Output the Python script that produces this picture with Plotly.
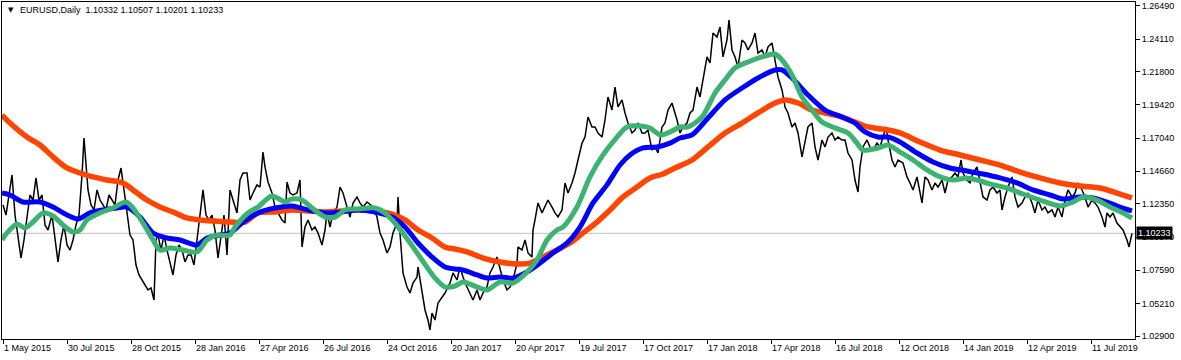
import plotly.graph_objects as go

# ---------------- data (bar index from 1 May 2015, price) ----------------
price_bar = [
    0, 3, 6, 9, 12, 15, 18, 21, 24, 27,
    30, 33, 36, 39, 42, 45, 49, 52, 55, 58,
    61, 64, 67, 70, 73, 76, 79, 81, 83, 85,
    88, 91, 94, 97, 100, 103, 106, 109, 112, 115,
    118, 121, 124, 127, 130, 133, 136, 139, 142, 145,
    148, 151, 153, 155, 158, 161, 164, 167, 170, 173,
    176, 179, 182, 185, 188, 191, 194, 197, 200, 203,
    206, 209, 212, 215, 218, 221, 224, 227, 230, 234,
    237, 240, 244, 247, 250, 254, 257, 260, 262, 265,
    269, 272, 275, 279, 282, 284, 287, 290, 294, 297,
    299, 302, 305, 309, 312, 315, 319, 322, 324, 327,
    330, 334, 337, 340, 344, 347, 350, 354, 357, 360,
    364, 367, 370, 374, 377, 380, 384, 387, 390, 394,
    395, 397, 400, 404, 407, 410, 414, 415, 419, 422,
    425, 427, 429, 432, 435, 439, 442, 445, 447, 450,
    454, 457, 460, 464, 467, 470, 474, 477, 480, 484,
    487, 490, 494, 497, 500, 504, 507, 510, 514, 515,
    519, 522, 525, 529, 530, 532, 535, 539, 542, 545,
    549, 552, 555, 559, 562, 565, 569, 572, 575, 579,
    582, 585, 589, 592, 595, 599, 602, 605, 609, 612,
    615, 619, 622, 625, 629, 632, 635, 639, 642, 645,
    649, 652, 655, 659, 662, 665, 669, 672, 674, 677,
    680, 684, 687, 690, 694, 697, 700, 704, 707, 710,
    714, 717, 720, 724, 726, 729, 732, 735, 739, 742,
    745, 749, 752, 755, 759, 762, 765, 769, 772, 775,
    779, 782, 785, 789, 792, 795, 799, 802, 805, 809,
    812, 815, 819, 822, 825, 829, 832, 835, 839, 842,
    845, 849, 852, 855, 857, 860, 864, 867, 870, 874,
    877, 880, 883, 885, 889, 892, 895, 900, 904, 907,
    910, 914, 917, 919, 922, 925, 929, 932, 935, 939,
    942, 945, 949, 952, 955, 958, 960, 964, 967, 970,
    974, 977, 980, 984, 987, 990, 994, 997, 999, 1002,
    1005, 1009, 1012, 1015, 1019, 1022, 1025, 1029, 1032, 1035,
    1039, 1042, 1045, 1049, 1052, 1055, 1059, 1062, 1065, 1069,
    1072, 1075, 1079, 1082, 1085, 1089, 1092, 1095, 1099, 1102,
    1104, 1107, 1110, 1114, 1117, 1120, 1124, 1126, 1129,
]
price_close = [
    1.1226, 1.1154, 1.1297, 1.1440, 1.1154, 1.1011, 1.0847, 1.0976, 1.1154, 1.1297,
    1.1261, 1.1419, 1.1261, 1.1297, 1.1083, 1.1047, 1.1154, 1.0976, 1.0819, 1.0976,
    1.1083, 1.0940, 1.0904, 1.0976, 1.1083, 1.1154, 1.1440, 1.1704, 1.1476, 1.1333,
    1.1226, 1.1190, 1.1333, 1.1261, 1.1226, 1.1190, 1.1297, 1.1261, 1.1226, 1.1404,
    1.1490, 1.1333, 1.1154, 1.1011, 1.0976, 1.0797, 1.0726, 1.0690, 1.0654, 1.0619,
    1.0633, 1.0547, 1.0976, 1.1011, 1.0904, 1.1011, 1.0904, 1.0819, 1.0726, 1.0869,
    1.0940, 1.0904, 1.0819, 1.0869, 1.0869, 1.0797, 1.0976, 1.1154, 1.1333, 1.1154,
    1.1119, 1.1154, 1.1047, 1.0847, 1.1011, 1.1154, 1.0869, 1.1333, 1.1261, 1.1169,
    1.1404, 1.1454, 1.1454, 1.1261, 1.1311, 1.1369, 1.1354, 1.1604, 1.1497, 1.1390,
    1.1311, 1.1211, 1.1169, 1.1119, 1.1097, 1.1390, 1.1311, 1.1297, 1.1311, 1.1404,
    1.0926, 1.1068, 1.1119, 1.1047, 1.1068, 1.1026, 1.0940, 1.1047, 1.1169, 1.1068,
    1.1169, 1.1211, 1.1354, 1.1311, 1.1211, 1.1140, 1.1240, 1.1283, 1.1240, 1.1211,
    1.1247, 1.1226, 1.1211, 1.1140, 1.1026, 1.0976, 1.0883, 1.0926, 1.1026, 1.1097,
    1.1283, 1.1026, 1.0740, 1.0640, 1.0597, 1.0668, 1.0711, 1.0783, 1.0597, 1.0476,
    1.0404, 1.0333, 1.0454, 1.0404, 1.0526, 1.0569, 1.0597, 1.0640, 1.0668, 1.0740,
    1.0690, 1.0783, 1.0711, 1.0640, 1.0597, 1.0547, 1.0619, 1.0547, 1.0597, 1.0640,
    1.0740, 1.0783, 1.0854, 1.0761, 1.0690, 1.0619, 1.0640, 1.0690, 1.0811, 1.0926,
    1.0904, 1.0976, 1.0883, 1.0854, 1.1047, 1.1119, 1.1240, 1.1169, 1.1211, 1.1261,
    1.1211, 1.1169, 1.1140, 1.1190, 1.1383, 1.1311, 1.1383, 1.1454, 1.1547, 1.1668,
    1.1711, 1.1854, 1.1783, 1.1783, 1.1740, 1.1711, 1.1833, 1.1997, 1.1904, 1.2068,
    1.1926, 1.1976, 1.1883, 1.1811, 1.1740, 1.1761, 1.1811, 1.1740, 1.1740, 1.1761,
    1.1618, 1.1640, 1.1597, 1.1783, 1.1811, 1.1904, 1.1954, 1.1883, 1.1833, 1.1740,
    1.1783, 1.1811, 1.1883, 1.1904, 1.2068, 1.1997, 1.2118, 1.2283, 1.2240, 1.2454,
    1.2425, 1.2497, 1.2283, 1.2404, 1.2547, 1.2333, 1.2283, 1.2211, 1.2404, 1.2383,
    1.2333, 1.2383, 1.2454, 1.2311, 1.2333, 1.2283, 1.2354, 1.2383, 1.2261, 1.2140,
    1.2047, 1.1926, 1.1883, 1.1783, 1.1811, 1.1740, 1.1569, 1.1690, 1.1783, 1.1811,
    1.1640, 1.1547, 1.1690, 1.1640, 1.1711, 1.1740, 1.1690, 1.1711, 1.1690, 1.1690,
    1.1597, 1.1547, 1.1404, 1.1318, 1.1497, 1.1640, 1.1690, 1.1640, 1.1618, 1.1668,
    1.1640, 1.1711, 1.1783, 1.1690, 1.1547, 1.1497, 1.1547, 1.1526, 1.1426, 1.1383,
    1.1333, 1.1426, 1.1311, 1.1240, 1.1426, 1.1404, 1.1333, 1.1383, 1.1354, 1.1404,
    1.1311, 1.1404, 1.1426, 1.1454, 1.1426, 1.1547, 1.1454, 1.1404, 1.1383, 1.1454,
    1.1497, 1.1383, 1.1283, 1.1261, 1.1333, 1.1354, 1.1311, 1.1333, 1.1190, 1.1283,
    1.1354, 1.1426, 1.1283, 1.1211, 1.1240, 1.1283, 1.1311, 1.1240, 1.1169, 1.1261,
    1.1190, 1.1211, 1.1169, 1.1190, 1.1140, 1.1211, 1.1140, 1.1261, 1.1333, 1.1283,
    1.1311, 1.1383, 1.1333, 1.1283, 1.1211, 1.1261, 1.1240, 1.1211, 1.1140, 1.1068,
    1.1169, 1.1140, 1.1169, 1.1097, 1.1068, 1.1047, 1.0976, 1.0926, 1.10233,
]

ma_slow_bar = [
    -1, 7, 24, 37, 50, 64, 77, 90, 104, 120,
    130, 144, 157, 170, 184, 197, 210, 227, 242, 255,
    272, 289, 305, 322, 339, 355, 372, 389, 402, 415,
    429, 442, 452, 464, 480, 497, 514, 527, 540, 554,
    567, 580, 594, 607, 620, 634, 647, 660, 672, 689,
    705, 722, 739, 755, 772, 782, 795, 809, 822, 839,
    852, 865, 885, 897, 917, 937, 957, 977, 997, 1017,
    1037, 1057, 1077, 1097, 1114, 1129,
]
ma_slow = [
    1.1868, 1.1811, 1.1711, 1.1654, 1.1569, 1.1490, 1.1454, 1.1426, 1.1404, 1.1383,
    1.1333, 1.1261, 1.1211, 1.1176, 1.1133, 1.1119, 1.1111, 1.1104, 1.1104, 1.1169,
    1.1176, 1.1190, 1.1183, 1.1176, 1.1183, 1.1190, 1.1183, 1.1161, 1.1119, 1.1047,
    1.0990, 1.0926, 1.0911, 1.0890, 1.0847, 1.0819, 1.0804, 1.0811, 1.0854, 1.0904,
    1.0954, 1.1026, 1.1104, 1.1190, 1.1283, 1.1354, 1.1419, 1.1447, 1.1490, 1.1547,
    1.1640, 1.1740, 1.1811, 1.1883, 1.1954, 1.1976, 1.1954, 1.1904, 1.1883, 1.1854,
    1.1818, 1.1783, 1.1761, 1.1740, 1.1676, 1.1618, 1.1583, 1.1547, 1.1511, 1.1461,
    1.1419, 1.1383, 1.1361, 1.1347, 1.1311, 1.1276,
]

ma_mid_bar = [
    -1, 7, 20, 37, 50, 64, 75, 87, 100, 114,
    124, 137, 150, 164, 177, 194, 204, 217, 227, 239,
    255, 272, 289, 305, 322, 339, 355, 372, 389, 402,
    415, 429, 442, 452, 460, 474, 484, 497, 510, 524,
    537, 550, 564, 577, 590, 604, 617, 627, 640, 654,
    667, 677, 689, 705, 722, 739, 755, 772, 779, 789,
    805, 822, 839, 852, 862, 875, 885, 897, 914, 930,
    947, 964, 980, 997, 1014, 1030, 1047, 1060, 1077, 1090,
    1104, 1117, 1129,
]
ma_mid = [
    1.1311, 1.1297, 1.1247, 1.1247, 1.1211, 1.1154, 1.1126, 1.1169, 1.1190, 1.1204,
    1.1211, 1.1140, 1.1026, 1.0990, 1.0976, 1.0940, 1.0990, 1.1011, 1.1026, 1.1097,
    1.1169, 1.1204, 1.1219, 1.1190, 1.1169, 1.1176, 1.1190, 1.1176, 1.1140, 1.1068,
    1.0954, 1.0854, 1.0783, 1.0769, 1.0761, 1.0726, 1.0704, 1.0711, 1.0704, 1.0747,
    1.0811, 1.0883, 1.0954, 1.1068, 1.1240, 1.1369, 1.1511, 1.1583, 1.1633, 1.1640,
    1.1668, 1.1704, 1.1726, 1.1847, 1.1976, 1.2061, 1.2133, 1.2190, 1.2190, 1.2133,
    1.2011, 1.1904, 1.1854, 1.1811, 1.1747, 1.1711, 1.1711, 1.1676, 1.1597, 1.1533,
    1.1490, 1.1469, 1.1447, 1.1419, 1.1383, 1.1333, 1.1297, 1.1268, 1.1283, 1.1276,
    1.1247, 1.1211, 1.1183,
]

ma_fast_bar = [
    -1, 4, 14, 22, 30, 40, 50, 60, 70, 77,
    84, 97, 110, 123, 130, 140, 150, 157, 167, 180,
    194, 204, 214, 227, 232, 245, 255, 269, 282, 289,
    299, 309, 322, 332, 342, 355, 372, 382, 392, 405,
    419, 432, 442, 452, 460, 474, 484, 497, 510, 524,
    534, 544, 554, 560, 574, 587, 600, 614, 624, 637,
    647, 657, 667, 677, 685, 699, 712, 722, 732, 745,
    759, 772, 779, 789, 799, 809, 819, 832, 845, 854,
    860, 875, 885, 897, 910, 924, 937, 950, 964, 974,
    987, 1004, 1020, 1037, 1057, 1070, 1080, 1094, 1107, 1120,
    1129,
]
ma_fast = [
    1.0976, 1.1026, 1.1090, 1.1061, 1.1104, 1.1169, 1.1147, 1.1083, 1.1033, 1.1047,
    1.1119, 1.1169, 1.1204, 1.1247, 1.1204, 1.1097, 1.0976, 1.0904, 1.0919, 1.0904,
    1.0890, 1.0976, 1.1011, 1.1011, 1.1068, 1.1169, 1.1211, 1.1290, 1.1247, 1.1268,
    1.1261, 1.1204, 1.1140, 1.1140, 1.1190, 1.1197, 1.1204, 1.1169, 1.1097, 1.0976,
    1.0833, 1.0704, 1.0640, 1.0647, 1.0676, 1.0640, 1.0619, 1.0676, 1.0668, 1.0747,
    1.0833, 1.0976, 1.1047, 1.1068, 1.1211, 1.1426, 1.1583, 1.1711, 1.1783, 1.1790,
    1.1776, 1.1726, 1.1747, 1.1783, 1.1783, 1.1854, 1.2025, 1.2118, 1.2204, 1.2247,
    1.2283, 1.2304, 1.2261, 1.2154, 1.1997, 1.1904, 1.1818, 1.1776, 1.1740, 1.1668,
    1.1618, 1.1633, 1.1654, 1.1604, 1.1547, 1.1476, 1.1426, 1.1404, 1.1419, 1.1404,
    1.1376, 1.1347, 1.1304, 1.1261, 1.1219, 1.1247, 1.1283, 1.1261, 1.1211, 1.1169,
    1.1133,
]

date_tick_bar = [0, 64, 128, 192, 256, 320, 384, 448, 512, 576, 640, 704, 768, 832, 896, 960, 1024, 1088]
date_tick_text = ["1 May 2015", "30 Jul 2015", "28 Oct 2015", "28 Jan 2016", "27 Apr 2016",
                  "26 Jul 2016", "24 Oct 2016", "20 Jan 2017", "20 Apr 2017", "19 Jul 2017",
                  "17 Oct 2017", "17 Jan 2018", "17 Apr 2018", "16 Jul 2018", "12 Oct 2018",
                  "14 Jan 2019", "12 Apr 2019", "11 Jul 2019"]
price_ticks = [1.02900, 1.05210, 1.07590, 1.09970, 1.12350, 1.14660,
               1.17040, 1.19420, 1.21800, 1.24110, 1.26490]
last_price = 1.10233
header_text = "EURUSD,Daily  1.10332 1.10507 1.10201 1.10233"

# ---------------- figure ----------------
FONT = "Liberation Sans, Arial, sans-serif"
fig = go.Figure()

fig.add_trace(go.Scatter(x=price_bar, y=price_close, mode="lines",
                         line=dict(color="#000000", width=1.5), hoverinfo="skip"))
fig.add_trace(go.Scatter(x=ma_slow_bar, y=ma_slow, mode="lines",
                         line=dict(color="#FF4500", width=5.5, shape="spline", smoothing=0.8)))
fig.add_trace(go.Scatter(x=ma_mid_bar, y=ma_mid, mode="lines",
                         line=dict(color="#0000FF", width=5, shape="spline", smoothing=0.8)))
fig.add_trace(go.Scatter(x=ma_fast_bar, y=ma_fast, mode="lines",
                         line=dict(color="#3CB371", width=5, shape="spline", smoothing=0.8)))

fig.add_shape(type="line", xref="paper", x0=0, x1=1, yref="y", y0=last_price, y1=last_price,
              line=dict(color="#C0C0C0", width=1), layer="below")

fig.add_annotation(xref="paper", yref="paper", x=0.0035, y=0.977, text="▼",
                   showarrow=False, xanchor="left", yanchor="middle",
                   font=dict(family="DejaVu Sans", size=7, color="#000000"))
fig.add_annotation(xref="paper", yref="paper", x=0.014, y=0.977, text=header_text,
                   showarrow=False, xanchor="left", yanchor="middle",
                   font=dict(family=FONT, size=9, color="#000000"))
fig.add_annotation(xref="paper", yref="y", x=1, y=last_price, text="1.10233",
                   showarrow=False, xanchor="left", yanchor="middle", xshift=1,
                   bgcolor="#000000", borderpad=1,
                   font=dict(family=FONT, size=9, color="#FFFFFF"))

fig.update_layout(
    width=1181, height=360,
    margin=dict(l=2, r=46, t=2, b=21),
    paper_bgcolor="#FFFFFF", plot_bgcolor="#FFFFFF",
    showlegend=False,
    font=dict(family=FONT, size=9, color="#000000"),
)
fig.update_xaxes(range=[-1, 1132], tickmode="array", tickvals=date_tick_bar, ticktext=date_tick_text,
                 ticks="outside", ticklen=4, tickcolor="#000000", ticklabelposition="outside right",
                 showgrid=False, zeroline=False, showline=True, linecolor="#000000", linewidth=1,
                 mirror=True, tickfont=dict(family=FONT, size=9, color="#000000"))
fig.update_yaxes(range=[1.02686, 1.26754], side="right", tickmode="array", tickvals=price_ticks,
                 ticktext=[f"{v:.5f}" for v in price_ticks],
                 ticks="outside", ticklen=4, tickcolor="#000000",
                 showgrid=False, zeroline=False, showline=True, linecolor="#000000", linewidth=1,
                 mirror=True, tickfont=dict(family=FONT, size=9, color="#000000"))

fig.write_html("out.html", config={"displayModeBar": False},
               post_script="document.body.style.margin='0';document.body.style.overflow='hidden';")
